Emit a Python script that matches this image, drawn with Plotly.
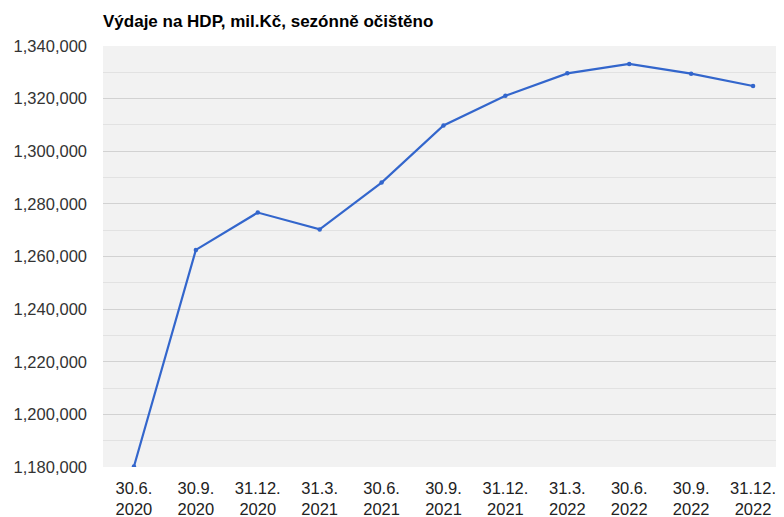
import plotly.graph_objects as go

categories = ["30.6.<br>2020", "30.9.<br>2020", "31.12.<br>2020", "31.3.<br>2021",
              "30.6.<br>2021", "30.9.<br>2021", "31.12.<br>2021", "31.3.<br>2022",
              "30.6.<br>2022", "30.9.<br>2022", "31.12.<br>2022"]
values = [1180200, 1262500, 1276700, 1270300, 1288100, 1309800,
          1321100, 1329600, 1333200, 1329500, 1324800]
title_text = "Výdaje na HDP, mil.Kč, sezónně očištěno"

FONT = "Liberation Sans, Arial, sans-serif"

# The page body has an 8px margin, so the figure is sized/offset to compensate.
W, H = 776, 509

fig = go.Figure()
fig.add_trace(go.Scatter(
    x=categories, y=values, mode="lines+markers",
    line=dict(color="#3366cc", width=2.2),
    marker=dict(color="#3366cc", size=4.5),
    hoverinfo="x+y",
))

fig.update_layout(
    width=W, height=H,
    margin=dict(l=95, r=0, t=38, b=50),
    paper_bgcolor="white",
    plot_bgcolor="#f2f2f2",
    showlegend=False,
    title=dict(text="<b>" + title_text + "</b>", x=95/W, xanchor="left",
               xref="container", y=1 - 13/H, yanchor="middle", yref="container",
               font=dict(family=FONT, size=17, color="#000000")),
    font=dict(family=FONT, size=16.5, color="#333333"),
)
fig.update_xaxes(
    type="category", range=[-0.5, 10.5], showgrid=False, zeroline=False,
    showline=False, ticks="", ticklabelstandoff=9,
    tickfont=dict(family=FONT, size=16.5, color="#222222"),
)
fig.update_yaxes(
    range=[1180000, 1340000], dtick=20000, tick0=1180000, tickformat=",",
    showgrid=True, gridcolor="#d2d2d2", gridwidth=1,
    minor=dict(dtick=10000, tick0=1180000, showgrid=True, gridcolor="#e2e2e2", gridwidth=1),
    zeroline=False, showline=False, ticks="", ticklabelstandoff=15,
    tickfont=dict(family=FONT, size=16.5, color="#333333"),
)

fig.write_html("out.html")
